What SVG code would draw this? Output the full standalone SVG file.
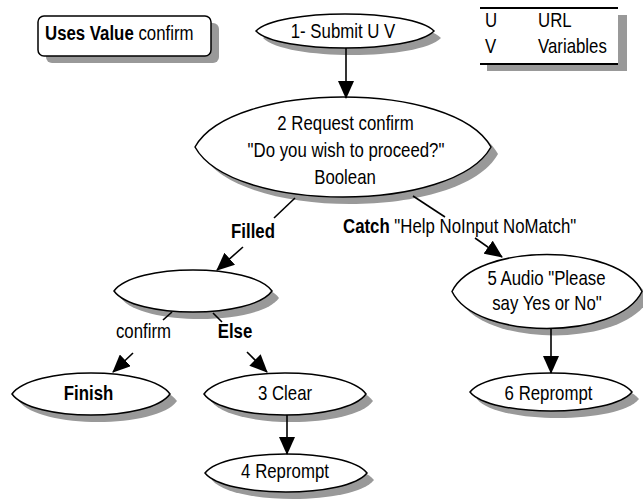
<svg xmlns="http://www.w3.org/2000/svg" xmlns:xlink="http://www.w3.org/1999/xlink" width="643" height="500" viewBox="0 0 643 500">
<style>
.t{font-family:"Liberation Sans",Arial,sans-serif;font-size:20.5px;fill:#000;text-anchor:middle}
.s{text-anchor:start}
.b{font-weight:bold}
.shape{fill:#fff;stroke:#000;stroke-width:1.5}
.sh{fill:#999;stroke:none}
.ln{fill:none;stroke:#000;stroke-width:1.6}
.lg{fill:none;stroke:#000;stroke-width:2}
.ar{fill:none;stroke:#000;stroke-width:1.6;marker-end:url(#ah)}
</style>
<defs>
<marker id="ah" markerUnits="userSpaceOnUse" markerWidth="18" markerHeight="16" viewBox="0 0 18 16" refX="17" refY="8" orient="auto">
<path d="M0,0 L18,8 L0,16 Z" fill="#000"/>
</marker>
<path id="p1" d="M256,31 C278,8.3 412,8.3 434,31 C412,53.7 278,53.7 256,31Z"/>
<path id="p2" d="M195,147 C232,80.3 454,80.3 491,147 C454,213.7 232,213.7 195,147Z"/>
<path id="pe" d="M114,291 C134,263 252,263 272,291 C252,319 134,319 114,291Z"/>
<path id="pf" d="M12,394 C32,366 150,366 170,394 C150,422 32,422 12,394Z"/>
<path id="p3" d="M204,394 C224,366 346,366 366,394 C346,422 224,422 204,394Z"/>
<path id="p4" d="M205,473 C225,447.7 347,447.7 367,473 C347,498.3 225,498.3 205,473Z"/>
<path id="p5" d="M452,291.5 C476,242.2 618,242.2 642,291.5 C618,340.8 476,340.8 452,291.5Z"/>
<path id="p6" d="M470,392 C490,366.7 612,366.7 632,392 C612,417.3 490,417.3 470,392Z"/>
</defs>

<g id="uses-value">
<rect class="sh" x="46" y="23" width="173" height="40" rx="6"/>
<rect class="shape" x="38" y="16" width="173" height="40" rx="6"/>
<text class="t s" transform="translate(45,40) scale(.82,1)"><tspan class="b">Uses Value</tspan> confirm</text>
</g>

<g id="legend">
<rect class="sh" x="487" y="15" width="140" height="56"/>
<rect x="480" y="8" width="138" height="56" fill="#fff"/>
<line class="lg" x1="480" y1="8" x2="618" y2="8"/>
<line class="lg" x1="480" y1="64" x2="618" y2="64"/>
<text class="t s" transform="translate(485,27) scale(.82,1)">U</text>
<text class="t s" transform="translate(538,27) scale(.82,1)">URL</text>
<text class="t s" transform="translate(485,53) scale(.82,1)">V</text>
<text class="t s" transform="translate(538,53) scale(.82,1)">Variables</text>
</g>

<g id="n1">
<use xlink:href="#p1" class="sh" transform="translate(7,7)"/>
<use xlink:href="#p1" class="shape"/>
<text class="t" transform="translate(343,38) scale(.82,1)">1- Submit U V</text>
</g>

<g id="n2">
<use xlink:href="#p2" class="sh" transform="translate(7,7)"/>
<use xlink:href="#p2" class="shape"/>
<text class="t" transform="translate(345.5,130) scale(.82,1)">2 Request confirm</text>
<text class="t" transform="translate(346,157) scale(.82,1)">"Do you wish to proceed?"</text>
<text class="t" transform="translate(345,184) scale(.82,1)">Boolean</text>
</g>

<g id="n-filled">
<use xlink:href="#pe" class="sh" transform="translate(7,7)"/>
<use xlink:href="#pe" class="shape"/>
</g>

<g id="n-finish">
<use xlink:href="#pf" class="sh" transform="translate(7,7)"/>
<use xlink:href="#pf" class="shape"/>
<text class="t b" transform="translate(88.5,400) scale(.82,1)">Finish</text>
</g>

<g id="n3">
<use xlink:href="#p3" class="sh" transform="translate(7,7)"/>
<use xlink:href="#p3" class="shape"/>
<text class="t" transform="translate(285,400) scale(.82,1)">3 Clear</text>
</g>

<g id="n4">
<use xlink:href="#p4" class="sh" transform="translate(7,7)"/>
<use xlink:href="#p4" class="shape"/>
<text class="t" transform="translate(285,478) scale(.82,1)">4 Reprompt</text>
</g>

<g id="n5">
<use xlink:href="#p5" class="sh" transform="translate(7,7)"/>
<use xlink:href="#p5" class="shape"/>
<text class="t" transform="translate(546.5,285) scale(.82,1)">5 Audio "Please</text>
<text class="t" transform="translate(547,310) scale(.82,1)">say Yes or No"</text>
</g>

<g id="n6">
<use xlink:href="#p6" class="sh" transform="translate(7,7)"/>
<use xlink:href="#p6" class="shape"/>
<text class="t" transform="translate(548.5,400) scale(.82,1)">6 Reprompt</text>
</g>

<g id="connectors">
<line class="ar" x1="346" y1="48" x2="346" y2="98"/>
<line class="ln" x1="295" y1="198" x2="274" y2="218"/>
<text class="t b" transform="translate(253,238) scale(.82,1)">Filled</text>
<line class="ar" x1="243" y1="247" x2="217" y2="270"/>
<line class="ln" x1="413" y1="196" x2="445" y2="217"/>
<text class="t s" transform="translate(343,233) scale(.82,1)"><tspan class="b">Catch</tspan> "Help NoInput NoMatch"</text>
<line class="ar" x1="475" y1="238" x2="502" y2="257"/>
<line class="ln" x1="172" y1="312" x2="163" y2="320"/>
<text class="t" transform="translate(143.5,338) scale(.82,1)">confirm</text>
<line class="ar" x1="133" y1="353" x2="113" y2="372"/>
<line class="ln" x1="213" y1="313" x2="222" y2="322"/>
<text class="t b" transform="translate(235,338) scale(.82,1)">Else</text>
<line class="ar" x1="247" y1="352" x2="267" y2="372"/>
<line class="ar" x1="287" y1="415" x2="287" y2="454"/>
<line class="ar" x1="551" y1="329" x2="551" y2="373"/>
</g>
</svg>
